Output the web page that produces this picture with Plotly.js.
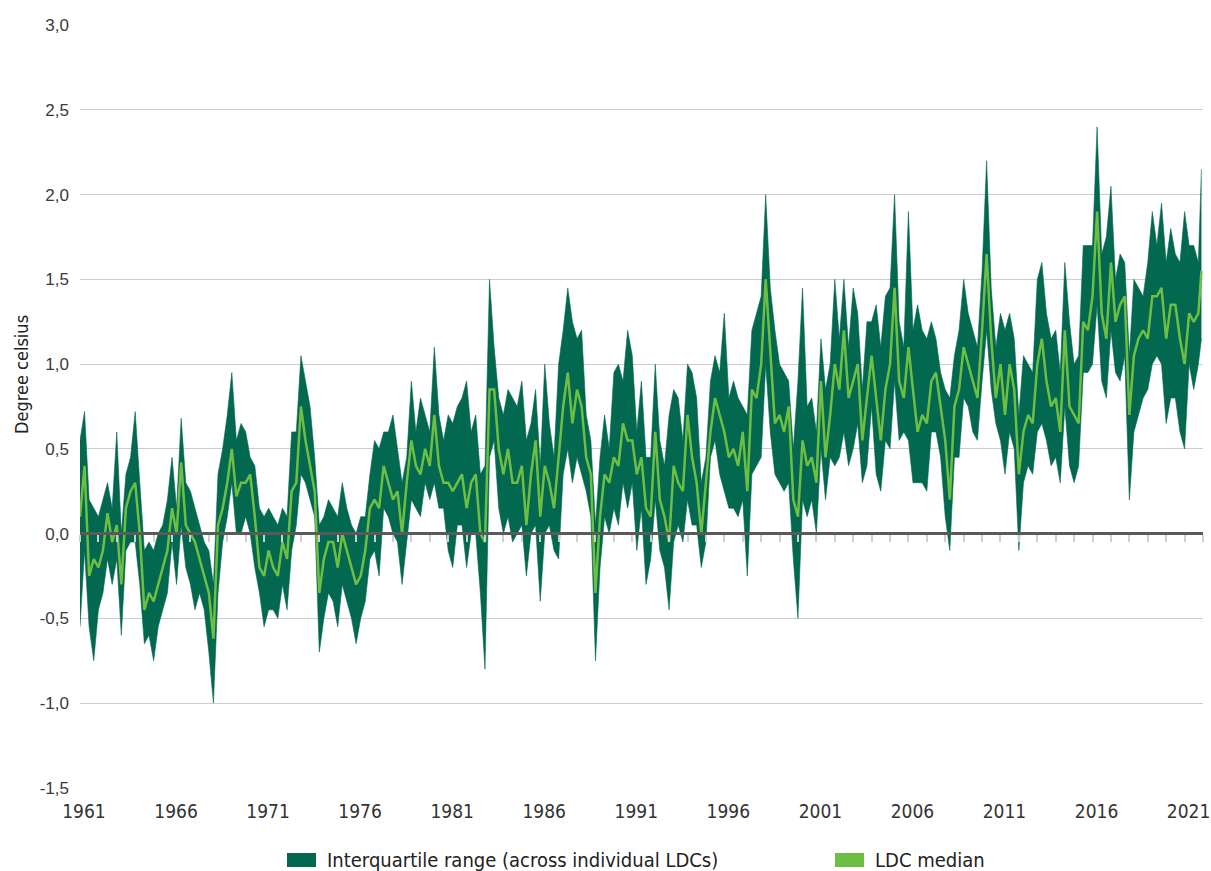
<!DOCTYPE html>
<html><head><meta charset="utf-8">
<script src="https://cdn.plot.ly/plotly-3.0.1.min.js"></script>
<style>html,body{margin:0;padding:0;background:#fff}#chart{width:1211px;height:871px}</style>
</head><body><div id="chart"></div><script>
// Quarterly readings (Jan, Apr, Jul, Oct) 1961-2021, plus Dec 2021
const startYear = 1961;
const lastPeriod = '2021-12-01';
const lowerQ = [
 -0.55,-0.1,-0.55,-0.75,  -0.45,-0.35,-0.15,-0.3,  -0.15,-0.6,-0.1,-0.05,  -0.05,-0.3,-0.65,-0.6,
 -0.75,-0.55,-0.45,-0.35, -0.05,-0.3,0.05,-0.2,   -0.3,-0.45,-0.35,-0.45,  -0.7,-1.0,-0.35,-0.05,
 0.1,0.3,0.0,0.0,         0.1,0.0,-0.2,-0.35,     -0.55,-0.45,-0.45,-0.5,  -0.3,-0.45,-0.1,0.05,
 0.35,0.3,0.2,0.1,        -0.7,-0.5,-0.35,-0.4,   -0.55,-0.3,-0.4,-0.5,    -0.65,-0.5,-0.4,-0.15,
 -0.1,-0.25,0.15,0.1,     0.0,-0.05,-0.3,-0.05,   0.2,0.15,0.1,0.3,        0.2,0.3,0.15,0.15,
 -0.1,-0.2,0.05,0.05,     -0.2,0.0,0.0,-0.35,     -0.8,0.45,0.55,0.15,     0.0,0.1,-0.05,0.0,
 0.05,-0.25,0.0,0.05,     -0.4,0.0,0.05,-0.1,     -0.15,0.35,0.5,0.3,      0.45,0.35,0.25,0.1,
 -0.75,-0.2,0.1,0.0,      0.15,0.05,0.3,0.15,     0.3,-0.1,0.15,-0.3,      -0.15,0.2,-0.1,-0.2,
 -0.45,-0.05,0.05,-0.05,  0.2,0.05,0.05,-0.2,     -0.05,0.45,0.55,0.35,    0.25,0.15,0.15,0.1,
 0.2,-0.25,0.35,0.4,      0.45,1.0,0.6,0.35,      0.3,0.25,0.3,-0.15,      -0.5,0.2,0.1,0.2,
 0.0,0.5,0.2,0.45,        0.4,0.45,0.6,0.4,       0.5,0.65,0.3,0.4,        0.75,0.35,0.25,0.55,
 0.5,0.9,0.55,0.6,        0.55,0.3,0.3,0.3,       0.25,0.6,0.6,0.45,       0.1,-0.1,0.45,0.45,
 0.8,0.75,0.6,0.55,       0.9,1.2,0.85,0.65,      0.55,0.35,0.6,0.5,       -0.1,0.3,0.4,0.35,
 0.6,0.65,0.55,0.4,       0.45,0.3,0.75,0.4,      0.3,0.4,0.95,0.95,       1.0,1.35,0.9,0.8,
 1.2,0.95,0.9,1.05,       0.2,0.6,0.7,0.8,        0.85,1.0,1.05,1.0,       0.65,0.8,0.8,0.6,
 0.5,1.0,0.85,1.0,        1.15
];
const medianQ = [
 0.1,0.4,-0.25,-0.15,     -0.2,-0.1,0.12,-0.05,   0.05,-0.3,0.15,0.25,     0.3,0.0,-0.45,-0.35,
 -0.4,-0.3,-0.2,-0.1,     0.15,0.0,0.42,0.05,     0.0,-0.05,-0.15,-0.25,   -0.35,-0.62,0.05,0.15,
 0.3,0.5,0.22,0.3,        0.3,0.35,0.1,-0.2,      -0.25,-0.1,-0.2,-0.25,   -0.05,-0.15,0.25,0.3,
 0.75,0.55,0.4,0.25,      -0.35,-0.15,-0.05,-0.05,-0.2,0.0,-0.1,-0.2,      -0.3,-0.25,-0.1,0.15,
 0.2,0.15,0.4,0.3,        0.2,0.25,0.0,0.3,       0.55,0.4,0.35,0.5,       0.4,0.7,0.4,0.3,
 0.3,0.25,0.3,0.35,       0.15,0.3,0.35,0.0,      -0.05,0.85,0.85,0.5,     0.35,0.5,0.3,0.3,
 0.4,0.05,0.35,0.55,      0.1,0.4,0.3,0.15,       0.45,0.75,0.95,0.65,     0.85,0.75,0.45,0.35,
 -0.35,0.1,0.35,0.3,      0.45,0.4,0.65,0.55,     0.55,0.35,0.45,0.15,     0.1,0.6,0.2,0.1,
 -0.05,0.4,0.3,0.25,      0.7,0.45,0.3,0.0,       0.3,0.6,0.8,0.7,         0.6,0.45,0.5,0.4,
 0.6,0.25,0.85,0.8,       1.0,1.5,1.05,0.65,      0.7,0.6,0.75,0.2,        0.1,0.55,0.4,0.45,
 0.3,0.9,0.45,0.7,        1.0,0.85,1.2,0.8,       0.9,1.0,0.55,0.8,        1.05,0.8,0.55,0.85,
 1.0,1.45,0.9,0.8,        1.1,0.85,0.6,0.7,       0.65,0.9,0.95,0.75,      0.55,0.2,0.75,0.85,
 1.1,1.0,0.9,0.8,         1.2,1.65,1.15,0.8,      1.0,0.7,1.0,0.85,        0.35,0.6,0.7,0.65,
 1.0,1.15,0.9,0.75,       0.8,0.6,1.2,0.75,       0.7,0.65,1.25,1.2,       1.4,1.9,1.3,1.15,
 1.6,1.25,1.35,1.4,       0.7,1.05,1.15,1.2,      1.15,1.4,1.4,1.45,       1.15,1.35,1.35,1.15,
 1.0,1.3,1.25,1.3,        1.55
];
const upperQ = [
 0.55,0.72,0.2,0.15,      0.1,0.2,0.3,0.15,       0.6,0.0,0.35,0.45,       0.72,0.3,-0.1,-0.05,
 -0.1,0.0,0.05,0.2,       0.45,0.15,0.68,0.3,     0.25,0.15,0.05,-0.05,    -0.1,-0.3,0.35,0.5,
 0.7,0.95,0.55,0.65,      0.6,0.45,0.4,0.15,      0.1,0.15,0.1,0.05,       0.15,0.1,0.6,0.6,
 1.05,0.9,0.75,0.45,      0.05,0.1,0.2,0.15,      0.1,0.3,0.15,0.05,       0.0,0.1,0.1,0.35,
 0.55,0.5,0.6,0.6,        0.7,0.5,0.3,0.45,       0.9,0.6,0.8,0.7,         0.6,1.1,0.7,0.55,
 0.7,0.65,0.75,0.8,       0.9,0.6,0.7,0.35,       0.4,1.5,1.1,0.8,         0.7,0.85,0.8,0.75,
 0.9,0.55,0.65,0.85,      0.4,1.0,0.65,0.45,      1.0,1.2,1.45,1.25,       1.15,1.2,0.7,0.55,
 0.05,0.45,0.7,0.5,       0.95,1.0,0.9,1.2,       1.05,0.6,0.9,0.45,       0.45,1.0,0.55,0.4,
 0.7,0.85,0.8,0.55,       1.0,0.95,0.8,0.3,       0.45,0.9,1.05,0.95,      1.3,0.8,0.9,0.8,
 0.75,0.7,1.2,1.3,        1.4,2.0,1.45,1.2,       1.0,0.95,0.9,0.5,        0.9,1.45,0.75,0.8,
 0.6,1.15,0.85,1.0,       1.5,1.15,1.5,1.1,       1.45,1.3,0.85,1.25,      1.25,1.35,1.1,1.4,
 1.45,2.0,1.25,1.1,       1.9,1.2,1.35,1.2,       1.15,1.25,1.15,0.95,     0.85,0.8,1.05,1.2,
 1.5,1.3,1.2,1.1,         1.55,2.2,1.45,1.1,      1.3,1.2,1.3,1.15,        0.7,1.05,1.0,0.95,
 1.5,1.6,1.3,1.15,        1.2,0.95,1.6,1.25,      1.0,1.05,1.7,1.7,        1.7,2.4,1.65,1.75,
 2.05,1.5,1.65,1.6,       1.05,1.5,1.45,1.4,      1.6,1.9,1.7,1.95,        1.6,1.8,1.65,1.6,
 1.9,1.7,1.7,1.6,         2.15
];
const yTickVals = [-1.5, -1.0, -0.5, 0.0, 0.5, 1.0, 1.5, 2.0, 2.5, 3.0];
const yTickLabels = ['-1,5', '-1,0', '-0,5', '0,0', '0,5', '1,0', '1,5', '2,0', '2,5', '3,0'];
const xTickLabelsEvery = 'M60';
const legendLabels = ['Interquartile range (across individual LDCs)', 'LDC median'];
const yTitle = 'Degree celsius';

const DARK = '#02684f';
const LIGHT = '#6fbe44';
const NARROW = 'Liberation Sans Narrow, DejaVu Sans Condensed, Arial Narrow, sans-serif';

const periods = lowerQ.map((_, i) => {
  if (i === lowerQ.length - 1) return lastPeriod;
  const y = startYear + Math.floor(i / 4);
  const m = 1 + 3 * (i % 4);
  return y + '-' + String(m).padStart(2, '0') + '-01';
});

const xRange = ['1961-01-01', '2022-01-01'];
const yRange = [-1.5015, 3.0015];
const zeroPos = (0 - yRange[0]) / (yRange[1] - yRange[0]);

const traces = [
  {x: periods, y: lowerQ, mode: 'lines', line: {color: DARK, width: 0.6}, hoverinfo: 'skip', showlegend: false},
  {x: periods, y: upperQ, mode: 'lines', fill: 'tonexty', fillcolor: DARK, line: {color: DARK, width: 0.6}, name: legendLabels[0], showlegend: false},
  {x: periods, y: medianQ, mode: 'lines', line: {color: LIGHT, width: 2.5}, name: legendLabels[1], showlegend: false},
  {x: [periods[0]], y: [medianQ[0]], xaxis: 'x2', mode: 'markers', marker: {opacity: 0}, hoverinfo: 'skip', showlegend: false}
];

const px = v => (v - 80) / 1123;   // paper placement helpers for legend pieces
const py = v => (788 - v) / 763;

const layout = {
  width: 1211, height: 871,
  margin: {l: 80, r: 8, t: 25, b: 83},
  paper_bgcolor: '#ffffff', plot_bgcolor: '#ffffff',
  showlegend: false,
  xaxis: {
    type: 'date', range: xRange, tick0: '1961-01-01', dtick: xTickLabelsEvery, tickformat: '%Y',
    showgrid: false, zeroline: false, showline: false, ticks: '',
    tickfont: {family: NARROW, size: 19, color: '#333333'},
    ticklabelshift: 4, ticklabelstandoff: 10, ticklabeloverflow: 'allow'
  },
  xaxis2: {
    type: 'date', overlaying: 'x', anchor: 'free', position: zeroPos, range: xRange,
    tick0: '1961-01-01', dtick: 'M12', ticks: 'outside', ticklen: 7, tickwidth: 2, tickcolor: '#cfcfcf',
    showticklabels: false, showline: false,
    showgrid: false, zeroline: false, layer: 'above traces'
  },
  yaxis: {
    range: yRange, tickmode: 'array', tickvals: yTickVals, ticktext: yTickLabels,
    showgrid: true, gridcolor: '#cccccc', gridwidth: 1, zeroline: false, showline: false, ticks: '',
    tickfont: {family: 'Liberation Sans, Arial, sans-serif', size: 17, color: '#3a3a3a'},
    ticklabelstandoff: 10
  },
  shapes: [
    {type: 'line', xref: 'paper', yref: 'y', x0: 0, x1: 1, y0: 0, y1: 0, layer: 'above', line: {color: '#5a5a5a', width: 3}},
    {type: 'rect', xref: 'paper', yref: 'paper', x0: px(287), x1: px(316), y0: py(867), y1: py(853), fillcolor: DARK, line: {width: 0}},
    {type: 'rect', xref: 'paper', yref: 'paper', x0: px(835), x1: px(864), y0: py(867), y1: py(853), fillcolor: LIGHT, line: {width: 0}}
  ],
  annotations: [
    {xref: 'paper', yref: 'paper', x: px(325), y: py(860), xanchor: 'left', yanchor: 'middle', showarrow: false,
     text: legendLabels[0], font: {family: NARROW, size: 20, color: '#222222'}},
    {xref: 'paper', yref: 'paper', x: px(873), y: py(860), xanchor: 'left', yanchor: 'middle', showarrow: false,
     text: legendLabels[1], font: {family: NARROW, size: 20, color: '#222222'}},
    {xref: 'paper', yref: 'paper', x: px(21), y: py(375), xanchor: 'center', yanchor: 'middle', showarrow: false,
     textangle: -90, text: yTitle, font: {family: NARROW, size: 18, color: '#222222'}}
  ]
};

Plotly.newPlot('chart', traces, layout, {displayModeBar: false, staticPlot: true});
</script></body></html>
